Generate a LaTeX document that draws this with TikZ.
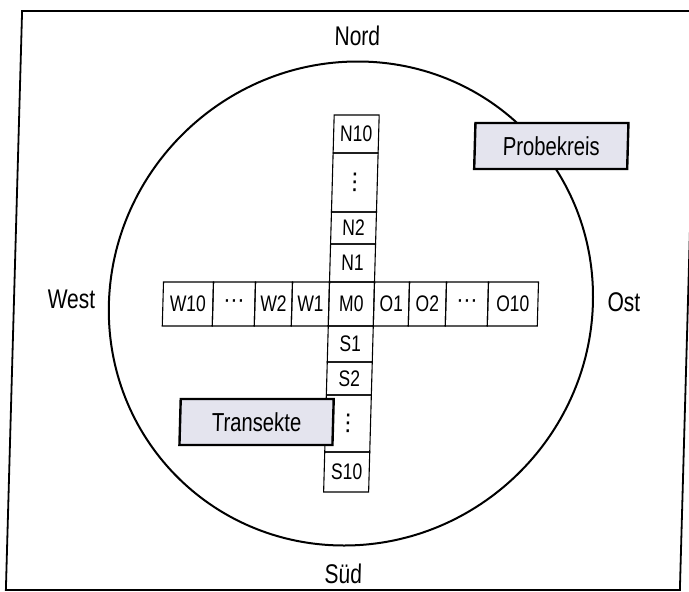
\documentclass[tikz,border=0pt]{standalone}
\usepackage{fontspec}
\setmainfont{Liberation Sans}[FakeStretch=0.78]
\newfontfamily\symfont{DejaVu Sans}
% vertical and horizontal ellipsis glyphs
\newcommand{\stackdots}{{\symfont\fontsize{23}{26}\selectfont ⋮}}
\newcommand{\rowdots}{{\symfont\fontsize{21}{25}\selectfont ⋯}}
\begin{document}
\begin{tikzpicture}[x=1pt,y=-1pt,
  cell/.style={draw, line width=1.1pt, inner sep=0pt, font=\fontsize{22.5}{26}\selectfont},
  tag/.style={draw, line width=2.4pt, fill=tagfill, inner sep=0pt, font=\fontsize{26}{31}\selectfont},
  compass/.style={inner sep=0pt, anchor=base, font=\fontsize{27}{32}\selectfont}]
\definecolor{tagfill}{RGB}{228,228,238}
\useasboundingbox (0,0) rectangle (689,592);
\begin{scope}[xshift=8.4pt, xslant=0.028, transform shape]
% frame
\draw[line width=1.8pt] (14,11) rectangle (688,590);
% sample circle
\node (kreis) [circle, draw, line width=2pt, minimum size=484pt, inner sep=0pt] at (351,303.5) {};
% compass labels
\node (nord) [compass] at (350,45) {Nord};
\node (sued) [compass] at (351,583) {Süd};
\node (west) [compass] at (71.5,308) {West};
\node (ost)  [compass] at (624,311) {Ost};
% east-west transect
\node (w10) [cell, minimum width=50pt, minimum height=44pt] at (188,304) {W10};
\node (wd)  [cell, minimum width=42pt, minimum height=44pt] at (234,304) {\rowdots};
\node (w2)  [cell, minimum width=37pt, minimum height=44pt] at (273.5,304) {W2};
\node (w1)  [cell, minimum width=37pt, minimum height=44pt] at (310.5,304) {W1};
\node (m0)  [cell, minimum width=45pt, minimum height=44pt] at (351.5,304) {M0};
\node (o1)  [cell, minimum width=35pt, minimum height=44pt] at (391.5,304) {O1};
\node (o2)  [cell, minimum width=37pt, minimum height=44pt] at (427.5,304) {O2};
\node (od)  [cell, minimum width=42pt, minimum height=44pt] at (467,304) {\rowdots};
\node (o10) [cell, minimum width=50pt, minimum height=44pt] at (513,304) {O10};
% north-south transect
\node (n10) [cell, minimum width=45pt, minimum height=38pt] at (351.5,134) {N10};
\node (nd)  [cell, minimum width=45pt, minimum height=59pt] at (351.5,182.5) {\stackdots};
\node (n2)  [cell, minimum width=45pt, minimum height=32pt] at (351.5,228) {N2};
\node (n1)  [cell, minimum width=45pt, minimum height=38pt] at (351.5,263) {N1};
\node (s1)  [cell, minimum width=45pt, minimum height=36pt] at (351.5,344) {S1};
\node (s2)  [cell, minimum width=45pt, minimum height=33pt] at (351.5,378.5) {S2};
\node (sd)  [cell, minimum width=45pt, minimum height=57pt] at (351.5,423.5) {\stackdots};
\node (s10) [cell, minimum width=45pt, minimum height=40pt] at (351.5,472) {S10};
% labels
\node (probe) [tag, minimum width=153pt, minimum height=46pt] at (547,146) {Probekreis};
\node (trans) [tag, minimum width=153pt, minimum height=46pt] at (260,422) {Transekte};
\end{scope}
\end{tikzpicture}
\end{document}
